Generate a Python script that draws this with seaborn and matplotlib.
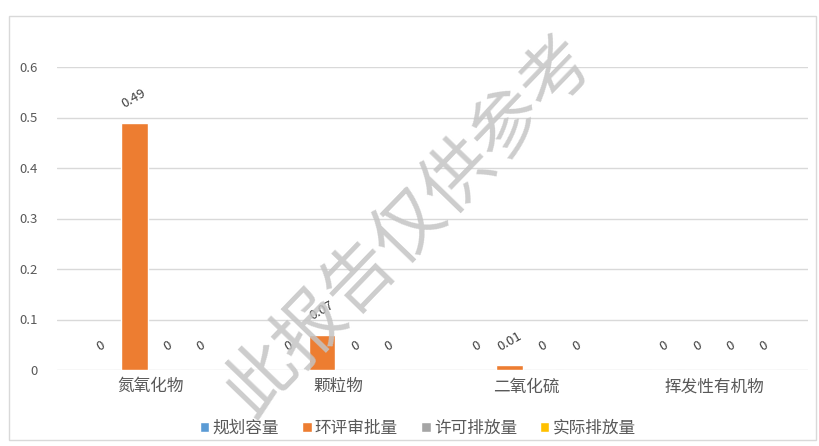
import matplotlib
matplotlib.use("Agg")
import matplotlib.pyplot as plt
import seaborn as sns
import pandas as pd
from matplotlib.patches import Rectangle

categories = ["氮氧化物", "颗粒物", "二氧化硫", "挥发性有机物"]
series = ["规划容量", "环评审批量", "许可排放量", "实际排放量"]
values_plan = [0, 0, 0, 0]
values_eia = [0.49, 0.07, 0.01, 0]
values_permit = [0, 0, 0, 0]
values_actual = [0, 0, 0, 0]
colors = ["#5B9BD5", "#ED7D31", "#A5A5A5", "#FFC000"]
yticks = [0, 0.1, 0.2, 0.3, 0.4, 0.5, 0.6]

rows = []
for s, vals in zip(series, [values_plan, values_eia, values_permit, values_actual]):
    for c, v in zip(categories, vals):
        rows.append({"category": c, "series": s, "value": v})
df = pd.DataFrame(rows)

sns.set_theme(style="white")
plt.rcParams['font.family'] = ['Noto Sans CJK SC', 'DejaVu Sans']

W, H = 819, 446
fig = plt.figure(figsize=(W / 100, H / 100), dpi=100)
ax = fig.add_axes([57 / W, 1 - 370 / H, (808 - 57) / W, (370 - 67) / H])

sns.barplot(data=df, x="category", y="value", hue="series", order=categories,
            hue_order=series, palette=colors, width=0.71, gap=0.2,
            errorbar=None, ax=ax, saturation=1, legend=True)

ax.set_ylim(0, 0.6)
ax.set_yticks(yticks)
ax.set_yticklabels([f"{t:g}" for t in yticks], color="#595959", fontsize=9.5)
ax.grid(axis="y", color="#D9D9D9", lw=1)
ax.set_axisbelow(True)
for sp in ax.spines.values():
    sp.set_visible(False)
ax.tick_params(axis="both", length=0)
ax.tick_params(axis="y", pad=14)
ax.tick_params(axis="x", pad=6)
for lab in ax.get_xticklabels():
    lab.set_color("#595959")
    lab.set_fontsize(12)
ax.set_xlabel("")
ax.set_ylabel("")

# value labels
for container in ax.containers:
    for patch, val in zip(container.patches, container.datavalues):
        x = patch.get_x() + patch.get_width() / 2
        y = patch.get_height()
        ax.annotate(f"{val:g}", xy=(x, y), xytext=(0, 17), textcoords="offset points",
                    ha="center", va="center", rotation=30, fontsize=9.5,
                    color="#404040", annotation_clip=False)

# legend
handles, labels = ax.get_legend_handles_labels()
ax.legend_.remove()
fig.legend(handles, labels, loc="center", bbox_to_anchor=(418 / W, 1 - 428 / H),
           ncol=4, frameon=False, fontsize=12, handlelength=0.55, handleheight=0.55,
           handletextpad=0.2, columnspacing=1.4, labelcolor="#595959")

# chart frame
fig.patches.append(Rectangle((9 / W, 1 - 440 / H), (816 - 9) / W, (440 - 16) / H,
                             transform=fig.transFigure, fill=False,
                             edgecolor="#D9D9D9", lw=1))

# watermark
fig.text(410 / W, 1 - 226 / H, "此报告仅供参考", rotation=46, fontsize=51,
         color="#C4C4C4", alpha=0.85, ha="center", va="center", fontweight="light",
         zorder=10)

fig.savefig("out.png", dpi=100)
